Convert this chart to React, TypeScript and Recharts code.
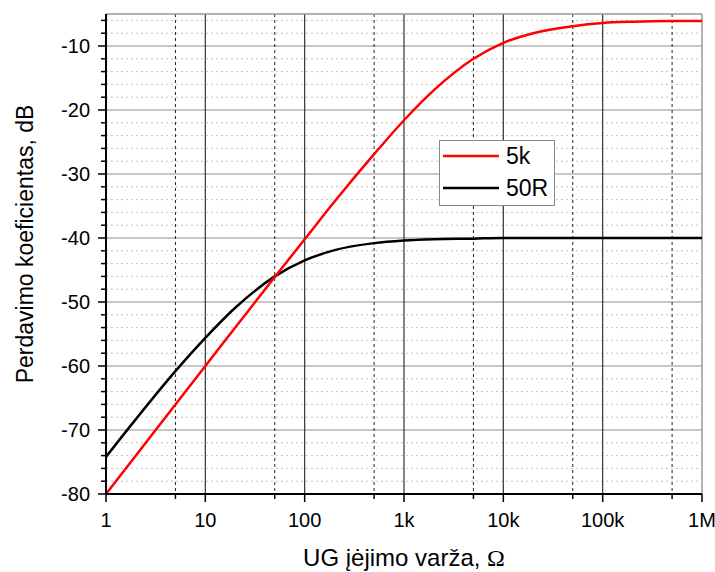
import { LineChart, Line, XAxis, YAxis, CartesianGrid, ReferenceLine, Legend } from 'recharts';

// Input resistance, ohms (log axis)
const resistance = [1, 2, 5, 10, 20, 50, 100, 200, 500, 1e3, 2e3, 5e3, 1e4, 2e4, 5e4, 1e5, 2e5, 5e5, 1e6];

// Transfer coefficient, dB
const gain5k = [-80.0, -74.0, -66.0, -60.0, -54.0, -46.1, -40.2, -34.3, -26.9, -21.6, -16.9, -12.0, -9.5, -8.0, -6.9, -6.4, -6.2, -6.1, -6.1];
const gain50R = [-74.2, -68.3, -60.8, -55.6, -50.9, -46.0, -43.5, -41.9, -40.8, -40.4, -40.2, -40.1, -40.0, -40.0, -40.0, -40.0, -40.0, -40.0, -40.0];

const xMajor = [1, 10, 100, 1e3, 1e4, 1e5, 1e6];
const xMajorLabels = ['1', '10', '100', '1k', '10k', '100k', '1M'];
const xMinor = [5, 50, 500, 5e3, 5e4, 5e5];

const yMajor = [-80, -70, -60, -50, -40, -30, -20, -10];
const yMinor: number[] = [];
for (let v = -78; v <= -6; v += 2) {
  if (v % 10 !== 0) yMinor.push(v);
}

const data = resistance.map((r, i) => ({ r, k5: gain5k[i], r50: gain50R[i] }));

const FONT = '"Liberation Sans", Arial, sans-serif';

function XTick({ x, y, payload }: any) {
  const idx = xMajor.indexOf(payload.value);
  const major = idx >= 0;
  return (
    <g>
      <line x1={x} x2={x} y1={y} y2={y + (major ? 8 : 5)} stroke="#000" strokeWidth={1.5} />
      {major && (
        <text x={x} y={y + 33} textAnchor="middle" fontFamily={FONT} fontSize={20} fill="#000">
          {xMajorLabels[idx]}
        </text>
      )}
    </g>
  );
}

function YTick({ x, y, payload }: any) {
  const major = yMajor.includes(payload.value);
  return (
    <g>
      <line x1={x} x2={x - (major ? 8 : 5)} y1={y} y2={y} stroke="#000" strokeWidth={1.5} />
      {major && (
        <text x={x - 16} y={y} dy="0.36em" textAnchor="end" fontFamily={FONT} fontSize={20} fill="#000">
          {payload.value}
        </text>
      )}
    </g>
  );
}

function LegendBox() {
  return (
    <svg width={116} height={66} style={{ display: 'block' }}>
      <rect x={0.5} y={0.5} width={115} height={65} fill="#fff" stroke="#888" strokeWidth={1} />
      <line x1={4} x2={60} y1={16} y2={16} stroke="#ff0000" strokeWidth={2.5} />
      <text x={67} y={16} dy="0.36em" fontFamily={FONT} fontSize={23} fill="#000">5k</text>
      <line x1={4} x2={60} y1={48} y2={48} stroke="#000" strokeWidth={2.5} />
      <text x={67} y={48} dy="0.36em" fontFamily={FONT} fontSize={23} fill="#000">50R</text>
    </svg>
  );
}

export default function App() {
  return (
    <div style={{ position: 'absolute', left: 0, top: 0, width: 715, height: 572, background: '#fff' }}>
      <LineChart width={715} height={572} data={data} margin={{ top: 14, right: 13, left: 0, bottom: 0 }}>
        <CartesianGrid horizontal vertical={false} horizontalValues={yMinor} stroke="#c4c4c4" strokeDasharray="2 3" />
        <CartesianGrid horizontal vertical={false} horizontalValues={yMajor.slice(1)} stroke="#b4b4b4" strokeWidth={1.5} />
        <CartesianGrid horizontal={false} vertical verticalValues={xMinor} stroke="#222" strokeDasharray="3 3" />
        <CartesianGrid horizontal={false} vertical verticalValues={xMajor.slice(1, -1)} stroke="#333" strokeWidth={1.2} />
        <ReferenceLine y={-5} stroke="#999" strokeWidth={1.5} />
        <ReferenceLine x={1e6} stroke="#999" strokeWidth={1.5} />
        <XAxis
          dataKey="r"
          type="number"
          scale="log"
          domain={[1, 1e6]}
          ticks={[...xMajor, ...xMinor].sort((a, b) => a - b)}
          interval={0}
          height={78}
          tickSize={0}
          tickMargin={0}
          tickLine={false}
          axisLine={{ stroke: '#000', strokeWidth: 2 }}
          tick={<XTick />}
          allowDataOverflow
        />
        <YAxis
          type="number"
          domain={[-80, -5]}
          ticks={[...yMajor, ...yMinor].sort((a, b) => a - b)}
          interval={0}
          width={106}
          tickSize={0}
          tickMargin={0}
          tickLine={false}
          axisLine={{ stroke: '#000', strokeWidth: 2 }}
          tick={<YTick />}
          allowDataOverflow
        />
        <Line dataKey="r50" name="50R" type="monotone" stroke="#000" strokeWidth={2.5} dot={false} isAnimationActive={false} />
        <Line dataKey="k5" name="5k" type="monotone" stroke="#ff0000" strokeWidth={2.5} dot={false} isAnimationActive={false} />
        <Legend
          layout="vertical"
          align="center"
          verticalAlign="middle"
          wrapperStyle={{ left: 439, top: 140, width: 116, height: 66 }}
          content={() => <LegendBox />}
        />
        <text x={33} y={244} transform="rotate(-90, 33, 244)" textAnchor="middle" fontFamily={FONT} fontSize={23} fill="#000">
          Perdavimo koeficientas, dB
        </text>
        <text x={404} y={566} textAnchor="middle" fontFamily={FONT} fontSize={24} fill="#000">
          UG įėjimo varža, <tspan fontFamily='"Liberation Serif", "DejaVu Serif", serif'>Ω</tspan>
        </text>
      </LineChart>
    </div>
  );
}
